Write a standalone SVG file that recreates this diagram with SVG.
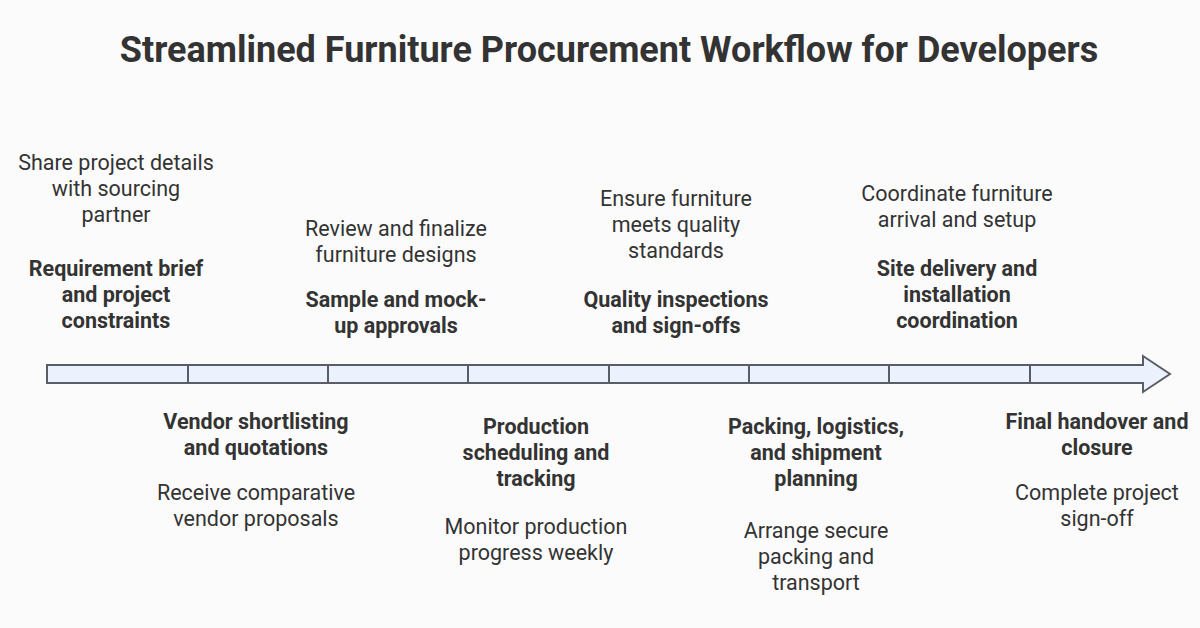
<svg xmlns="http://www.w3.org/2000/svg" width="1200" height="628" viewBox="0 0 1200 628">
<style>
text{font-family:Roboto,"Liberation Sans",sans-serif;fill:#333;text-anchor:middle}
.t{font-size:36px;font-weight:bold}
.b{font-size:21.5px;font-weight:bold}
.n{font-size:21.5px}
.s{fill:#ecf2fd;stroke:#5a5d66;stroke-width:2}
</style>
<rect width="1200" height="628" fill="#fbfbfb"/>
<text class="t" x="609" y="62">Streamlined Furniture Procurement Workflow for Developers</text>
<g id="connectors">
<path class="s" d="M47 365H1143V356L1170 374L1143 392V383H47Z"/>
<path d="M188 365V383M328 365V383M468 365V383M609 365V383M749 365V383M889 365V383M1030 365V383" stroke="#5a5d66" stroke-width="2"/>
</g>
<g id="n1"><text class="n" x="116" y="170">Share project details</text><text class="n" x="116" y="196">with sourcing</text><text class="n" x="116" y="222">partner</text>
<text class="b" x="116" y="276">Requirement brief</text><text class="b" x="116" y="302">and project</text><text class="b" x="116" y="328">constraints</text></g>
<g id="n2"><text class="b" x="256" y="429">Vendor shortlisting</text><text class="b" x="256" y="455">and quotations</text>
<text class="n" x="256" y="500">Receive comparative</text><text class="n" x="256" y="526">vendor proposals</text></g>
<g id="n3"><text class="n" x="396" y="236">Review and finalize</text><text class="n" x="396" y="262">furniture designs</text>
<text class="b" x="396" y="307">Sample and mock-</text><text class="b" x="396" y="333">up approvals</text></g>
<g id="n4"><text class="b" x="536" y="434">Production</text><text class="b" x="536" y="460">scheduling and</text><text class="b" x="536" y="486">tracking</text>
<text class="n" x="536" y="534">Monitor production</text><text class="n" x="536" y="560">progress weekly</text></g>
<g id="n5"><text class="n" x="676" y="206">Ensure furniture</text><text class="n" x="676" y="232">meets quality</text><text class="n" x="676" y="258">standards</text>
<text class="b" x="676" y="307">Quality inspections</text><text class="b" x="676" y="333">and sign-offs</text></g>
<g id="n6"><text class="b" x="816" y="434">Packing, logistics,</text><text class="b" x="816" y="460">and shipment</text><text class="b" x="816" y="486">planning</text>
<text class="n" x="816" y="538">Arrange secure</text><text class="n" x="816" y="564">packing and</text><text class="n" x="816" y="590">transport</text></g>
<g id="n7"><text class="n" x="957" y="201">Coordinate furniture</text><text class="n" x="957" y="227">arrival and setup</text>
<text class="b" x="957" y="276">Site delivery and</text><text class="b" x="957" y="302">installation</text><text class="b" x="957" y="328">coordination</text></g>
<g id="n8"><text class="b" x="1097" y="429">Final handover and</text><text class="b" x="1097" y="455">closure</text>
<text class="n" x="1097" y="500">Complete project</text><text class="n" x="1097" y="526">sign-off</text></g>
</svg>
